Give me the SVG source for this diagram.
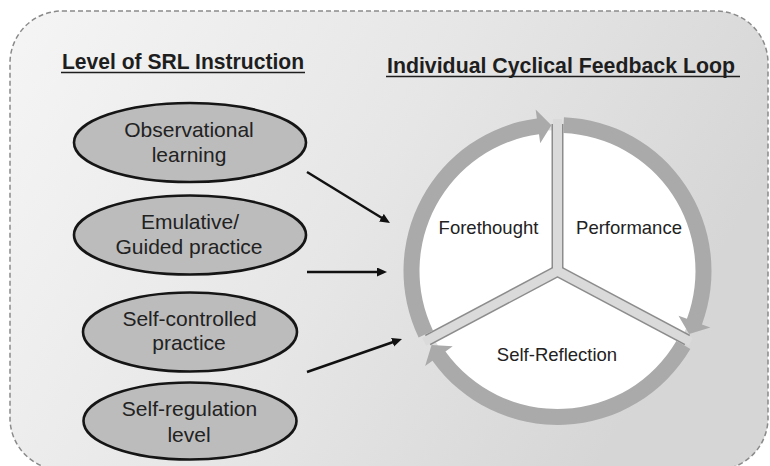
<svg xmlns="http://www.w3.org/2000/svg" width="770" height="466" viewBox="0 0 770 466">
  <defs>
    <linearGradient id="panelFill" x1="0" y1="0" x2="1" y2="0.35">
      <stop offset="0" stop-color="#f5f5f5"/>
      <stop offset="0.55" stop-color="#e6e6e6"/>
      <stop offset="1" stop-color="#d6d6d6"/>
    </linearGradient>
    <marker id="head" markerUnits="userSpaceOnUse" markerWidth="12" markerHeight="10" refX="3" refY="4.5" orient="auto">
      <path d="M0,0 L10,4.5 L0,9 Z" fill="#111"/>
    </marker>
    <style>
      .heading { font-family: "Liberation Sans", Arial, sans-serif; font-size: 22px; font-weight: bold; fill: #1e1e1e; }
      .rule { stroke: #1e1e1e; stroke-width: 1.6; }
      .level ellipse { fill: #bcbcbc; stroke: #151515; stroke-width: 2.6; }
      .level text { font-family: "Liberation Sans", Arial, sans-serif; font-size: 21px; fill: #222; text-anchor: middle; }
      .phase { font-family: "Liberation Sans", Arial, sans-serif; font-size: 18.5px; fill: #222; text-anchor: middle; }
      .ring { fill: #aaaaaa; }
      .spoke-edge { stroke: #8c8c8c; stroke-width: 12; fill: none; }
      .spoke-fill { stroke: #dadada; stroke-width: 9; fill: none; }
      .link { stroke: #111; stroke-width: 2.5; fill: none; marker-end: url(#head); }
    </style>
  </defs>

  <!-- background panel -->
  <rect x="10" y="11" width="758" height="459" rx="52" ry="52" fill="url(#panelFill)" stroke="#8a8a8a" stroke-width="1.5" stroke-dasharray="5 3"/>

  <!-- column headings -->
  <g id="heading-levels">
    <text class="heading" x="62" y="69" textLength="242" lengthAdjust="spacingAndGlyphs">Level of SRL Instruction</text>
    <line class="rule" x1="61" y1="72.5" x2="305" y2="72.5"/>
  </g>
  <g id="heading-loop">
    <text class="heading" x="387" y="73" textLength="348" lengthAdjust="spacingAndGlyphs">Individual Cyclical Feedback Loop</text>
    <line class="rule" x1="386" y1="76.5" x2="740" y2="76.5"/>
  </g>

  <!-- instruction levels -->
  <g id="observational" class="level">
    <ellipse cx="190" cy="142.5" rx="116" ry="39.5"/>
    <text x="189" y="137">Observational</text>
    <text x="189" y="162">learning</text>
  </g>
  <g id="emulative" class="level">
    <ellipse cx="190" cy="235" rx="116" ry="39.5"/>
    <text x="190" y="229">Emulative/</text>
    <text x="189" y="254">Guided practice</text>
  </g>
  <g id="self-controlled" class="level">
    <ellipse cx="190" cy="332" rx="107" ry="39.5"/>
    <text x="189.5" y="326">Self-controlled</text>
    <text x="189" y="350">practice</text>
  </g>
  <g id="self-regulation" class="level">
    <ellipse cx="190" cy="421" rx="106.5" ry="38.5"/>
    <text x="189.5" y="416">Self-regulation</text>
    <text x="189" y="442">level</text>
  </g>

  <!-- cyclical feedback loop -->
  <g id="feedback-loop">
    <circle cx="557.5" cy="271" r="141" fill="#ffffff"/>
    <g id="spokes">
      <line class="spoke-edge" x1="557.5" y1="271" x2="557.5" y2="124"/>
      <line class="spoke-edge" x1="557.5" y1="271" x2="687.3" y2="340"/>
      <line class="spoke-edge" x1="557.5" y1="271" x2="427.7" y2="340"/>
      <circle cx="557.5" cy="271" r="6" fill="#8c8c8c"/>
      <line class="spoke-fill" x1="557.5" y1="271" x2="557.5" y2="119"/>
      <line class="spoke-fill" x1="557.5" y1="271" x2="690.8" y2="341.9"/>
      <line class="spoke-fill" x1="557.5" y1="271" x2="424.2" y2="341.9"/>
      <circle cx="557.5" cy="271" r="4.5" fill="#dadada"/>
    </g>
    <g id="forethought">
      <path class="ring" d="M418.62,337.54 A154,154 0 0 1 536.86,118.39 L535.66,109.47 L551.38,125.13 L540.21,143.16 L539.01,134.24 A138,138 0 0 0 433.05,330.63 Z"/>
      <text class="phase" x="488.5" y="234">Forethought</text>
    </g>
    <g id="performance">
      <path class="ring" d="M563.95,117.14 A154,154 0 0 1 701.94,324.42 L710.38,327.54 L689.16,334.09 L678.49,315.75 L686.93,318.87 A138,138 0 0 0 563.28,133.12 Z"/>
      <text class="phase" x="629" y="234">Performance</text>
    </g>
    <g id="self-reflection">
      <path class="ring" d="M690.33,348.92 A154,154 0 0 1 432.44,360.86 L425.13,366.11 L431.57,344.88 L452.74,346.27 L445.43,351.52 A138,138 0 0 0 676.53,340.83 Z"/>
      <text class="phase" x="557" y="361">Self-Reflection</text>
    </g>
  </g>

  <!-- connectors from instruction levels into the loop -->
  <g id="connectors">
    <line class="link" x1="307" y1="172" x2="384" y2="219.3"/>
    <line class="link" x1="307" y1="272" x2="380" y2="272"/>
    <line class="link" x1="307" y1="372" x2="395.4" y2="341.3"/>
  </g>
</svg>
